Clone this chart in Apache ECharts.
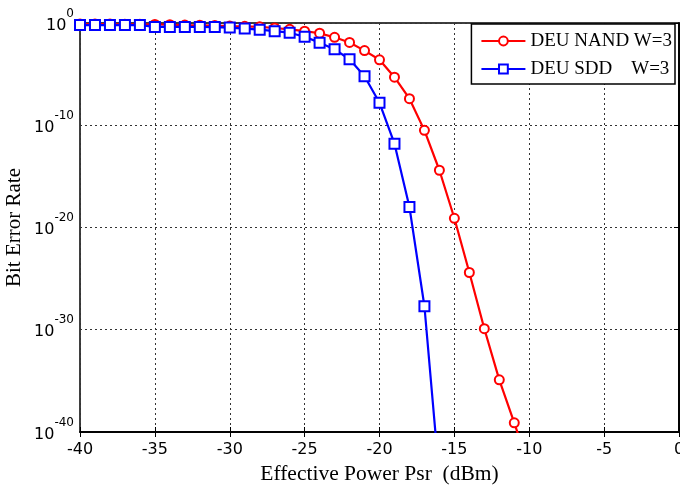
<!DOCTYPE html>
<html>
<head>
<meta charset="utf-8">
<script src="https://cdn.jsdelivr.net/npm/echarts@6/dist/echarts.min.js"></script>
<style>
  html, body { margin: 0; padding: 0; background: #fff; }
  #chart { width: 680px; height: 489px; }
</style>
</head>
<body>
<div id="chart"></div>
<script>
// 横坐标 (dBm)
let nandPower = [-40, -39, -38, -37, -36, -35, -34, -33, -32, -31, -30, -29, -28, -27, -26,
  -25, -24, -23, -22, -21, -20, -19, -18, -17, -16, -15, -14, -13, -12, -11, -10];
// log10(BER) 读图估计
let nandLog10 = [-0.1, -0.1, -0.1, -0.12, -0.13, -0.14, -0.17, -0.2, -0.22, -0.25, -0.3, -0.33, -0.37, -0.49, -0.62,
  -0.8, -1.0, -1.4, -1.9, -2.7, -3.6, -5.3, -7.4, -10.5, -14.4, -19.1, -24.4, -29.9, -34.9, -39.1, -43.5];

let sddPower = [-40, -39, -38, -37, -36, -35, -34, -33, -32, -31, -30, -29, -28, -27, -26,
  -25, -24, -23, -22, -21, -20, -19, -18, -17, -16];
let sddLog10 = [-0.2, -0.2, -0.2, -0.2, -0.2, -0.38, -0.38, -0.38, -0.39, -0.4, -0.45, -0.55, -0.65, -0.8, -0.95,
  -1.34, -1.92, -2.57, -3.55, -5.2, -7.8, -11.8, -18.0, -27.7, -44.5];

let seriesNames = ['DEU NAND W=3', 'DEU SDD    W=3'];

function toPairs(xs, logs) {
  return xs.map((x, i) => [x, Math.pow(10, logs[i])]);
}

let chart = echarts.init(document.getElementById('chart'), null, { renderer: 'canvas' });

// 1e-40 取对数会有浮点误差，稍微放低一点保证 -40 刻度还在
let yMin = 0.99999e-40;
let yMax = 1;

let gridLine = {
  show: true,
  lineStyle: { color: '#333', width: 1, type: [2, 3] }
};
let blackLine = { show: true, lineStyle: { color: '#000', width: 1.5 } };
let innerTick = { show: true, inside: true, length: 5, lineStyle: { color: '#000', width: 1 } };

let option = {
  backgroundColor: '#fff',
  animation: false,
  grid: {
    left: 80,
    right: 1,
    top: 23,
    bottom: 57,
    containLabel: false,
    outerBoundsMode: 'none',
    show: true,
    borderColor: '#000',
    borderWidth: 1.5
  },
  legend: {
    orient: 'vertical',
    right: 5,
    top: 24,
    itemWidth: 44,
    itemHeight: 11,
    itemGap: 8,
    padding: [7, 3, 5, 9],
    backgroundColor: '#fff',
    borderColor: '#000',
    borderWidth: 1.5,
    borderRadius: 0,
    textStyle: {
      fontFamily: 'Liberation Serif',
      fontSize: 19,
      lineHeight: 20,
      color: '#000'
    },
    data: seriesNames
  },
  xAxis: [
    {
      type: 'value',
      position: 'bottom',
      min: -40,
      max: 0,
      interval: 5,
      name: 'Effective Power Psr  (dBm)',
      nameLocation: 'middle',
      nameGap: 31,
      nameTextStyle: { fontFamily: 'Liberation Serif', fontSize: 21.5, color: '#000' },
      axisLine: blackLine,
      axisTick: innerTick,
      axisLabel: { fontFamily: 'DejaVu Sans', fontSize: 16, color: '#000', margin: 10 },
      splitLine: gridLine
    },
    {
      type: 'value',
      position: 'top',
      min: -40,
      max: 0,
      interval: 5,
      axisLine: blackLine,
      axisTick: innerTick,
      axisLabel: { show: false },
      splitLine: { show: false }
    }
  ],
  yAxis: [
    {
      type: 'log',
      logBase: 10,
      position: 'left',
      min: yMin,
      max: yMax,
      splitNumber: 4,
      name: 'Bit Error Rate',
      nameLocation: 'middle',
      nameGap: 55,
      nameMoveOverlap: false,
      nameTextStyle: { fontFamily: 'Liberation Serif', fontSize: 21, color: '#000' },
      axisLine: blackLine,
      axisTick: innerTick,
      axisLabel: {
        margin: 6,
        padding: [0, 0, 5, 0],
        showMinLabel: true,
        showMaxLabel: true,
        hideOverlap: false,
        formatter: function (v) {
          let e = Math.round(Math.log10(v));
          return '{b|10}{s|' + e + '}';
        },
        rich: {
          b: { fontFamily: 'DejaVu Sans', fontSize: 16, color: '#000', lineHeight: 26, verticalAlign: 'bottom' },
          s: { fontFamily: 'DejaVu Sans', fontSize: 12, color: '#000', lineHeight: 12, verticalAlign: 'top' }
        }
      },
      splitLine: gridLine
    },
    {
      type: 'log',
      logBase: 10,
      position: 'right',
      min: yMin,
      max: yMax,
      splitNumber: 4,
      axisLine: blackLine,
      axisTick: innerTick,
      axisLabel: { show: false },
      splitLine: { show: false }
    }
  ],
  series: [
    {
      name: seriesNames[0],
      type: 'line',
      data: toPairs(nandPower, nandLog10),
      symbol: 'emptyCircle',
      symbolSize: 9,
      color: '#ff0000',
      lineStyle: { width: 2.2, color: '#ff0000' },
      itemStyle: { color: '#ff0000', borderColor: '#ff0000', borderWidth: 2 },
      clip: true
    },
    {
      name: seriesNames[1],
      type: 'line',
      data: toPairs(sddPower, sddLog10),
      symbol: 'emptyRect',
      symbolSize: 10,
      color: '#0000ff',
      lineStyle: { width: 2.2, color: '#0000ff' },
      itemStyle: { color: '#0000ff', borderColor: '#0000ff', borderWidth: 2 },
      clip: true
    }
  ]
};

chart.setOption(option);
</script>
</body>
</html>
